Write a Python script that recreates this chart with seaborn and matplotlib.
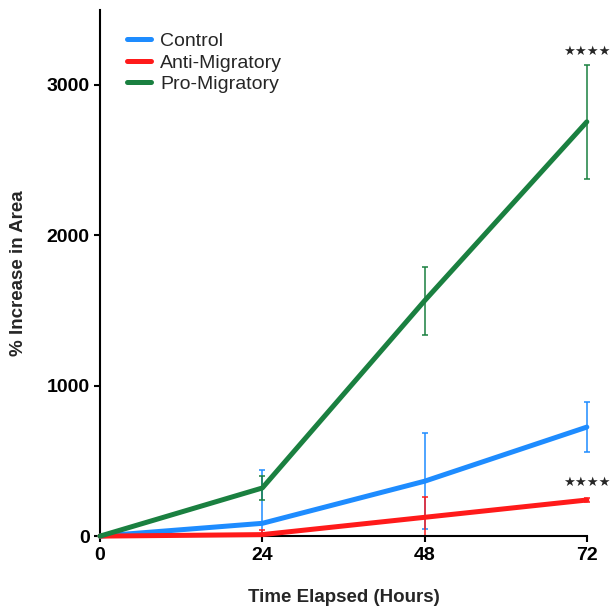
import numpy as np
import pandas as pd
import matplotlib.pyplot as plt
import seaborn as sns

hours = [0, 24, 48, 72]
groups = ['Control', 'Anti-Migratory', 'Pro-Migratory']
control_mean = [0, 85, 365, 725]
control_err = [0, 355, 320, 165]
anti_mean = [0, 10, 125, 240]
anti_err = [0, 30, 133, 15]
pro_mean = [0, 320, 1565, 2755]
pro_err = [0, 77, 225, 380]

colors = {'Control': '#1e8cff', 'Anti-Migratory': '#ff1a1a', 'Pro-Migratory': '#1a8040'}

df = pd.DataFrame({
    'hours': hours * 3,
    'group': np.repeat(groups, len(hours)),
    'mean': control_mean + anti_mean + pro_mean,
    'err': control_err + anti_err + pro_err,
})

sns.set_style('ticks')
plt.rcParams['font.family'] = ['Liberation Sans', 'DejaVu Sans']

fig = plt.figure(figsize=(6.1, 6.12), dpi=100)
ax = fig.add_axes([0.164, 0.124, 0.798, 0.86])

for g in groups:
    sub = df[df['group'] == g]
    # lower bar stops at the x axis, like the original
    lower = np.minimum(sub['err'].values, sub['mean'].values)
    eb = ax.errorbar(sub['hours'], sub['mean'], yerr=[lower, sub['err'].values], fmt='none',
                     ecolor=colors[g], elinewidth=1.1, capsize=2.5, capthick=1.1, zorder=2)
    for art in eb.lines[1] + eb.lines[2]:
        art.set_clip_on(False)

sns.lineplot(data=df, x='hours', y='mean', hue='group', palette=colors,
             linewidth=3.6, ax=ax, zorder=3, clip_on=False)

# significance markers
ax.text(72.0, 3225, '★★★★', ha='center', va='center', fontsize=9.5,
        family='DejaVu Sans', clip_on=False)
ax.text(72.0, 355, '★★★★', ha='center', va='center', fontsize=9.5,
        family='DejaVu Sans', clip_on=False)

ax.set_xlim(0, 72)
ax.set_ylim(0, 3500)
ax.set_xticks(hours)
ax.set_yticks([0, 1000, 2000, 3000])
ax.tick_params(axis='both', labelsize=14, width=1.5, length=4, color='black', labelcolor='black')
for lab in ax.get_xticklabels() + ax.get_yticklabels():
    lab.set_fontweight('bold')
ax.set_xlabel('Time Elapsed (Hours)', fontsize=13.5, fontweight='bold', labelpad=18)
ax.set_ylabel('% Increase in Area', fontsize=13.5, fontweight='bold', labelpad=14)
for s in ['left', 'bottom']:
    ax.spines[s].set_linewidth(1.5)
    ax.spines[s].set_color('black')
sns.despine(ax=ax)

ax.legend(title=None, loc='upper left', bbox_to_anchor=(0.02, 0.99), frameon=False,
          fontsize=14, handlelength=1.2, handletextpad=0.5, labelspacing=0.2)

plt.savefig('out.png', dpi=100)
